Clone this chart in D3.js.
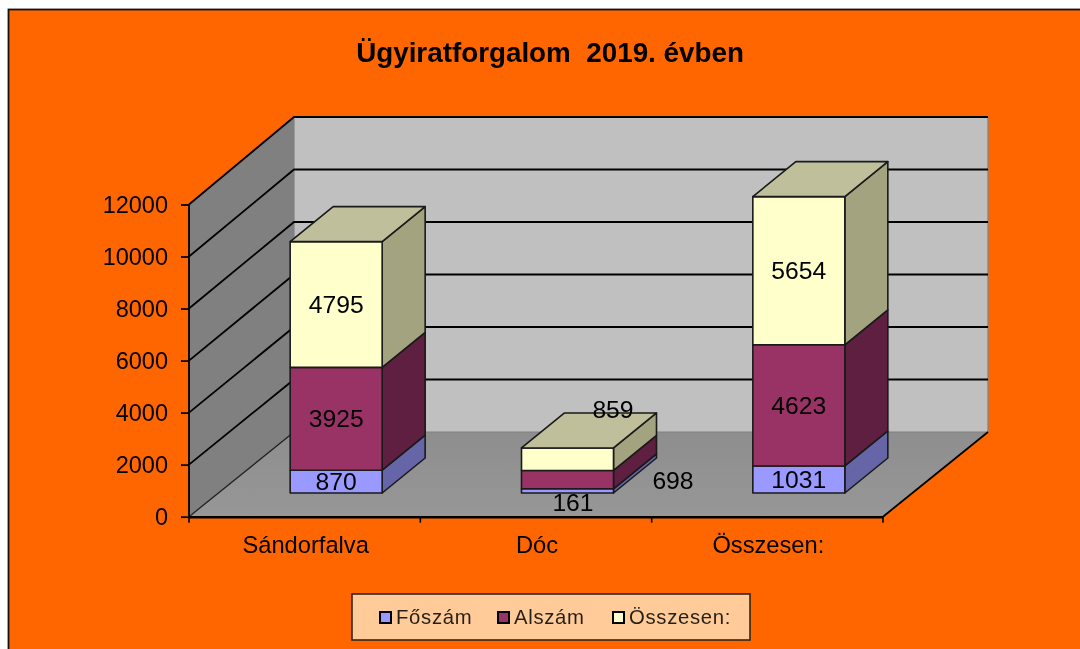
<!DOCTYPE html>
<html><head><meta charset="utf-8">
<script src="https://cdn.jsdelivr.net/npm/d3@7"></script>
<style>html,body{margin:0;padding:0;background:#fff}svg{display:block;filter:blur(.55px)}text{font-family:"Liberation Sans",Arial,sans-serif;fill:#000}</style>
</head><body><svg id="c" width="1080" height="649"></svg>
<script>
const categories = ["Sándorfalva", "Dóc", "Összesen:"];
const seriesNames = ["Főszám", "Alszám", "Összesen:"];
const foszam = [870, 161, 1031];
const alszam = [3925, 698, 4623];
const osszesen = [4795, 859, 5654];
const yTicks = [0, 2000, 4000, 6000, 8000, 10000, 12000];
const frontColors = ["#9999FF", "#993366", "#FFFFCC"];
const sideColors = ["#6565A8", "#5F1F40", "#A3A380"];
const topColor = "#BFBF9B";

const svg = d3.select("#c");
svg.append("rect").attr("x",8.5).attr("y",9.5).attr("width",1080).attr("height",650).attr("fill","#FF6600").attr("stroke","#111").attr("stroke-width",1.8);

const x = d3.scaleBand().domain(categories).range([189,883]);
const yAxisScale = d3.scaleLinear().domain([0,12000]).range([516.7,204.5]);
const yWall = d3.scaleLinear().domain([0,12000]).range([432,117]);
const yBar = d3.scaleLinear().domain([0,12000]).range([493,178.5]);
const D = {dx:105, dy:-84.5};
const B = {dx:43, dy:-35, w:92, shift:31.5};

const pts = a => a.map(p=>p.join(",")).join(" ");
const poly = (p,fill,stroke,sw=1.6)=>svg.append("polygon").attr("points",pts(p)).attr("fill",fill).attr("stroke",stroke||"none").attr("stroke-width",sw).attr("stroke-linejoin","round");

const [x0,x1] = x.range();
const f0 = yAxisScale(0), fT = yAxisScale(12000);
const b0 = yWall(0), bT = yWall(12000);
const xb0 = x0+D.dx, xb1 = x1+D.dx;

const defs = svg.append("defs");
const gr = defs.append("linearGradient").attr("id","fl").attr("x1",0).attr("y1",0).attr("x2",0).attr("y2",1);
gr.append("stop").attr("offset",0).attr("stop-color","#8E8E8E");
gr.append("stop").attr("offset",1).attr("stop-color","#979797");
poly([[xb0,bT],[xb1,bT],[xb1,b0],[xb0,b0]],"#C0C0C0");
poly([[x0,fT],[xb0,bT],[xb0,b0],[x0,f0]],"#808080");
poly([[x0,f0],[xb0,b0],[xb1,b0],[x1,f0]],"url(#fl)");

svg.append("path").attr("d",`M${xb0},${bT}V${b0}M${xb1},${bT}V${b0}M${xb0},${b0}H${xb1}`).attr("fill","none").attr("stroke","#808080").attr("stroke-width",1.2);

yTicks.forEach(t=>{
  if(t===0) return;
  svg.append("path").attr("d",`M${x0},${yAxisScale(t)}L${xb0},${yWall(t)}H${xb1}`).attr("fill","none").attr("stroke","#000").attr("stroke-width",1.8);
});
svg.append("path").attr("d",`M${x0},${f0}L${xb0},${b0}`).attr("fill","none").attr("stroke","#222").attr("stroke-width",1.3);
svg.append("path").attr("d",`M${x1},${f0}L${xb1},${b0}`).attr("fill","none").attr("stroke","#000").attr("stroke-width",1.8);

const gy = svg.append("g").attr("transform",`translate(${x0},0)`).call(d3.axisLeft(yAxisScale).tickValues(yTicks).tickSize(8).tickPadding(13).tickFormat(d3.format("d")));
gy.selectAll("text").attr("font-size",23.5).style("font-family",'"Liberation Sans",Arial,sans-serif').attr("fill","#000");
gy.selectAll("line,path").attr("stroke","#000").attr("stroke-width",1.8);
gy.select("path.domain").attr("d",`M0,${fT}V${f0}`);

const xTickVals = [x0, ...categories.slice(1).map(c=>x(c)), x1];
const gxT = svg.append("g");
gxT.selectAll("line").data(xTickVals).join("line").attr("x1",d=>d).attr("x2",d=>d).attr("y1",f0).attr("y2",f0+6).attr("stroke","#000").attr("stroke-width",1.6);
svg.append("line").attr("x1",x0).attr("x2",x1).attr("y1",f0+.5).attr("y2",f0+.5).attr("stroke","#000").attr("stroke-width",2.4);
svg.selectAll("text.cat").data(categories).join("text").attr("class","cat").attr("x",d=>x(d)+x.bandwidth()/2+1).attr("y",553).attr("text-anchor","middle").attr("font-size",23.7).text(d=>d);

const series = [foszam, alszam, osszesen];
categories.forEach((c,i)=>{
  const left = x(c)+(x.bandwidth()-B.w)/2+B.shift, right = left+B.w;
  let acc = 0;
  series.forEach((s,k)=>{
    const yb = yBar(acc), yt = yBar(acc+s[i]);
    poly([[right,yb],[right+B.dx,yb+B.dy],[right+B.dx,yt+B.dy],[right,yt]],sideColors[k],"#1a1a1a");
    poly([[left,yb],[right,yb],[right,yt],[left,yt]],frontColors[k],"#1a1a1a");
    if(k===2) poly([[left,yt],[right,yt],[right+B.dx,yt+B.dy],[left+B.dx,yt+B.dy]],topColor,"#1a1a1a");
    acc += s[i];
  });
  let a2 = 0;
  series.forEach((s,k)=>{
    const cy = yBar(a2+s[i]/2);
    let lx = (left+right)/2, ly = cy+8.5;
    if(c==="Dóc"){
      if(k===0){ lx = 573; ly = 511; }
      if(k===1){ lx = 673; ly = 488.5; }
      if(k===2){ lx = 613; ly = 418; }
    }
    svg.append("text").attr("x",lx).attr("y",ly).attr("text-anchor","middle").attr("font-size",24.7).text(s[i]);
    a2 += s[i];
  });
});

svg.append("text").attr("x",550).attr("y",62).attr("text-anchor","middle").attr("font-size",27.8).attr("font-weight","bold").style("white-space","pre").text("Ügyiratforgalom  2019. évben");

svg.append("rect").attr("x",352).attr("y",594).attr("width",398).attr("height",46).attr("fill","#FFCC99").attr("stroke","#33261a").attr("stroke-width",1.6);
const lx = d3.scaleOrdinal().domain(seriesNames).range([380,498,613]);
seriesNames.forEach((n,i)=>{
  svg.append("rect").attr("x",lx(n)).attr("y",612).attr("width",11).attr("height",11).attr("fill",frontColors[i]).attr("stroke","#000").attr("stroke-width",2);
  svg.append("text").attr("x",lx(n)+16).attr("y",624).attr("font-size",20.3).attr("letter-spacing",.7).attr("fill-opacity",.85).text(n);
});
</script></body></html>
